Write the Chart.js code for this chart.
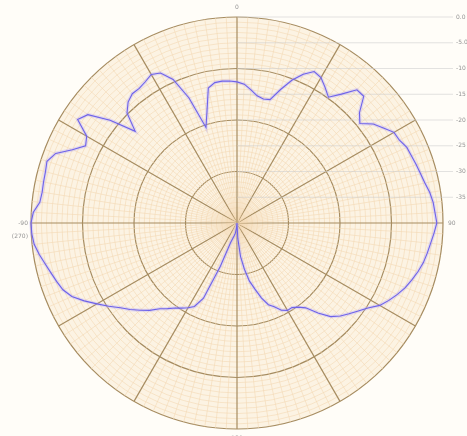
<!DOCTYPE html>
<html>
<head>
<meta charset="utf-8">
<script src="https://cdn.jsdelivr.net/npm/chart.js@4.4.0/dist/chart.umd.min.js"></script>
<style>
  html, body { margin: 0; padding: 0; background: #fffdf8; }
  #wrap { width: 467px; height: 436px; }
</style>
</head>
<body>
<div id="wrap"><canvas id="pattern"></canvas></div>
<script>
// azimuth in degrees, clockwise from top
const angles = [
  0, 3, 6, 9, 12, 15, 18, 21, 24, 27,
  30, 33, 36, 39, 42, 45, 48, 51, 54, 57,
  60, 63, 66, 69, 72, 75, 78, 81, 84, 87,
  90, 93, 96, 99, 102, 105, 108, 111, 114, 117,
  120, 123, 126, 129, 132, 135, 138, 141, 144, 147,
  150, 153, 156, 159, 162, 165, 168, 171, 174, 177,
  180, 183, 186, 189, 192, 195, 198, 201, 204, 207,
  210, 213, 216, 219, 222, 225, 228, 231, 234, 237,
  240, 243, 246, 249, 252, 255, 258, 261, 264, 267,
  270, 273, 276, 279, 282, 285, 288, 291, 294, 297,
  300, 303, 306, 309, 312, 315, 318, 321, 324, 327,
  330, 333, 336, 339, 342, 345, 348, 351, 354, 357
]

// relative gain in dB
const gain = [
  -12.6, -13.0, -14.0, -15.0, -15.4, -15.2, -12.8, -10.3, -8.4, -7.0,
  -7.4, -8.6, -9.8, -7.8, -5.2, -5.2, -8.0, -9.3, -7.3, -6.1,
  -4.8, -4.6, -3.9, -3.7, -3.4, -3.1, -2.7, -2.1, -1.7, -1.5,
  -1.2, -1.7, -2.2, -2.6, -3.0, -3.6, -4.3, -5.0, -5.9, -6.9,
  -8.0, -9.7, -10.9, -12.0, -13.0, -14.3, -16.5, -18.8, -19.8, -20.4,
  -20.4, -21.0, -22.2, -23.0, -24.7, -26.8, -28.5, -31.0, -33.5, -37.0,
  -40, -40, -39, -38, -37.5, -37, -36, -31, -24, -21.8,
  -21.0, -20.3, -19.6, -18.6, -17.6, -16.0, -14.7, -13.3, -12.0, -10.3,
  -8.6, -6.7, -4.9, -3.8, -3.2, -2.6, -1.9, -1.1, -0.4, -0.1,
  0, -0.4, -1.5, -1.7, -1.6, -1.5, -1.2, -2.3, -5.0, -7.0,
  -6.3, -3.1, -4.2, -8.3, -13.4, -9.8, -8.4, -7.7, -7.7, -7.3,
  -6.7, -7.3, -9.5, -14.0, -20.5, -17.5, -13.2, -12.4, -12.3, -12.4
]

const angleTickValues = [0, 90, 180, 270]
const angleTickText = [['0'], ['90'], ['180'], ['-90', '(270)']]

const radialTickValues = [0, -5, -10, -15, -20, -25, -30, -35]
const radialTickText = ['0.0', '-5.0', '-10', '-15', '-20', '-25', '-30', '-35']

const MAJOR = '#a68c60'
const MINOR = '#f4d9b4'

// right hand dB scale + compass labels
const overlay = {
  id: 'overlay',
  beforeDatasetsDraw(chart) {
    const scale = chart.scales.r
    const ctx = chart.ctx
    ctx.save()
    ctx.font = '6px "DejaVu Sans"'
    ctx.fillStyle = '#959595'
    ctx.strokeStyle = 'rgba(205,205,205,0.8)'
    ctx.lineWidth = 0.7
    ctx.textBaseline = 'middle'
    ctx.textAlign = 'left'
    radialTickValues.forEach((v, i) => {
      const y = scale.yCenter - scale.getDistanceFromCenterForValue(v)
      ctx.beginPath()
      ctx.moveTo(scale.xCenter, y)
      ctx.lineTo(453, y)
      ctx.stroke()
      ctx.fillText(radialTickText[i], 456, y)
    })

    angleTickValues.forEach((deg, i) => {
      const idx = angles.indexOf(deg)
      const pos = scale.getPointPosition(idx, scale.drawingArea + 9)
      const lines = angleTickText[i]
      if (deg === 90) ctx.textAlign = 'left'
      else if (deg === 270) ctx.textAlign = 'right'
      else ctx.textAlign = 'center'
      const x = deg === 90 ? pos.x - 4 : deg === 270 ? pos.x + 6 : pos.x
      lines.forEach((t, j) => {
        ctx.fillText(t, x, pos.y + j * 13 - (deg === 0 ? 1 : 0))
      })
    })
    ctx.restore()
  }
}

new Chart(document.getElementById('pattern'), {
  type: 'radar',
  data: {
    labels: angles.map((a) => String(a)),
    datasets: [
      {
        label: 'glow',
        data: gain,
        borderColor: 'rgba(160,150,255,0.28)',
        borderWidth: 3.5,
        pointRadius: 0,
        fill: false
      },
      {
        label: 'pattern',
        data: gain,
        borderColor: '#5a4ee2',
        borderWidth: 1.1,
        pointRadius: 0,
        fill: false
      }
    ]
  },
  options: {
    responsive: true,
    maintainAspectRatio: false,
    animation: false,
    layout: {
      padding: { left: 10, right: 3, top: 17, bottom: 7 }
    },
    elements: { line: { tension: 0 } },
    plugins: {
      legend: { display: false },
      tooltip: { enabled: false }
    },
    scales: {
      r: {
        min: -40,
        max: 0,
        startAngle: 0,
        backgroundColor: '#fcf3e3',
        ticks: { stepSize: 1, display: false },
        pointLabels: { display: false },
        grid: {
          circular: true,
          color: (c) => (c.tick && c.tick.value % 10 === 0) ? MAJOR : MINOR,
          lineWidth: (c) => (c.tick && c.tick.value % 10 === 0) ? 1.2 : 0.6
        },
        angleLines: {
          color: (c) => c.index % 10 === 0 ? MAJOR : MINOR,
          lineWidth: (c) => c.index % 10 === 0 ? 1.2 : 0.6
        }
      }
    }
  },
  plugins: [overlay]
})
</script>
</body>
</html>
